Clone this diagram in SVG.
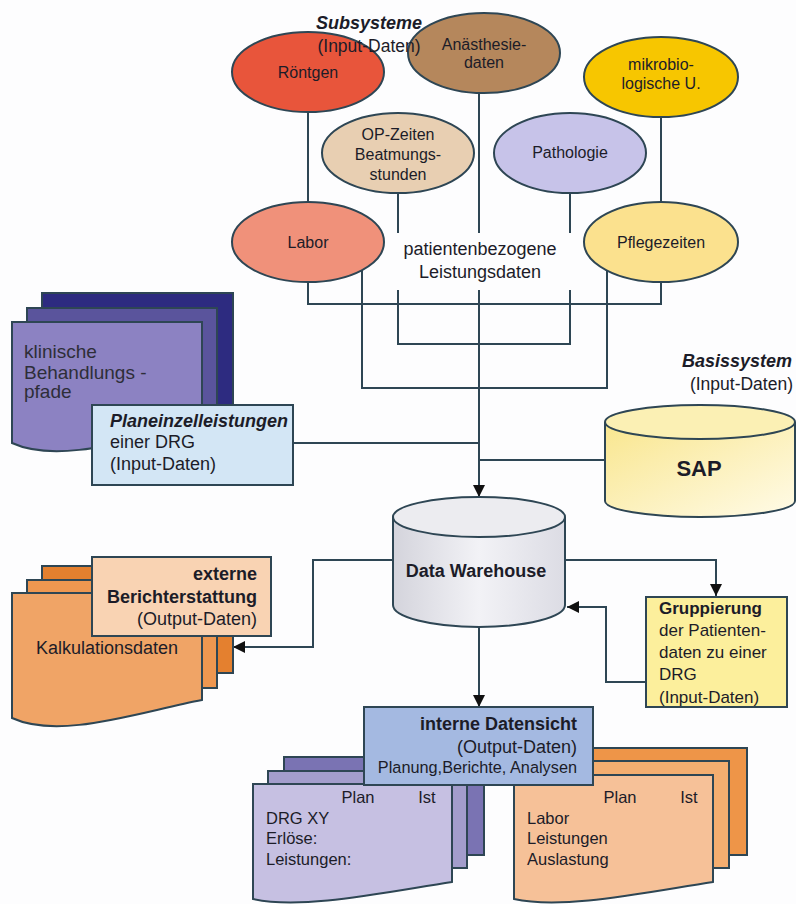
<svg xmlns="http://www.w3.org/2000/svg" width="796" height="904" viewBox="0 0 796 904">
<style>
text{font-family:"Liberation Sans",Arial,sans-serif;fill:#1c1c28}
.e{font-size:16px;text-anchor:middle}
.sh{stroke:#2e4654;stroke-width:2}
.ln{fill:none;stroke:#2e4654;stroke-width:2}
.b{font-weight:bold}
.bi{font-weight:bold;font-style:italic}
</style>
<defs>
<marker id="ah" viewBox="0 0 12 12" refX="12" refY="6" markerWidth="12" markerHeight="12" markerUnits="userSpaceOnUse" orient="auto">
<path d="M0,0 L12,6 L0,12 Z" fill="#111"/>
</marker>
<linearGradient id="gDW" x1="0" y1="0" x2="1" y2="0">
<stop offset="0" stop-color="#d4d4dc"/><stop offset="0.5" stop-color="#f2f2f6"/><stop offset="1" stop-color="#dcdce4"/>
</linearGradient>
<linearGradient id="gSAP" x1="0" y1="0" x2="1" y2="1">
<stop offset="0" stop-color="#f9e68e"/><stop offset="1" stop-color="#fffbe8"/>
</linearGradient>
</defs>
<rect width="796" height="904" fill="#fdfdfe"/>

<g id="connectors">
<path class="ln" d="M308,113 V202"/>
<path class="ln" d="M661,117 V202"/>
<path class="ln" d="M398,193 V233 M398,290 V344 H570 V290 M570,233 V193"/>
<path class="ln" d="M479,93 V233"/>
<path class="ln" d="M308,282 V304 H661 V282"/>
<path class="ln" d="M362,270 V388 H607 V270"/>
<path class="ln" d="M479,290 V497" marker-end="url(#ah)"/>
<path class="ln" d="M293,443 H479"/>
<path class="ln" d="M605,460 H479"/>
<path class="ln" d="M393,560 H313 V647 H233" marker-end="url(#ah)"/>
<path class="ln" d="M565,560 H716 V596" marker-end="url(#ah)"/>
<path class="ln" d="M646,682 H606 V607 H567" marker-end="url(#ah)"/>
<path class="ln" d="M479,627 V707" marker-end="url(#ah)"/>
</g>

<g id="roentgen"><ellipse class="sh" cx="308" cy="72" rx="76" ry="40" fill="#e8553b"/><text class="e" x="308" y="78">Röntgen</text></g>
<g id="anaesthesie"><ellipse class="sh" cx="484" cy="53" rx="76" ry="40" fill="#b5875c"/><text class="e" x="484" y="50">Anästhesie-</text><text class="e" x="484" y="68">daten</text></g>
<g id="mikrobio"><ellipse class="sh" cx="661" cy="77" rx="77" ry="40" fill="#f7c600"/><text class="e" x="661" y="70">mikrobio-</text><text class="e" x="661" y="89">logische U.</text></g>
<g id="opzeiten"><ellipse class="sh" cx="398" cy="153" rx="76" ry="40" fill="#e8cfb2"/><text class="e" x="398" y="140">OP-Zeiten</text><text class="e" x="398" y="160">Beatmungs-</text><text class="e" x="398" y="180">stunden</text></g>
<g id="pathologie"><ellipse class="sh" cx="570" cy="153" rx="76" ry="40" fill="#c7c3e9"/><text class="e" x="570" y="158">Pathologie</text></g>
<g id="labor"><ellipse class="sh" cx="308" cy="242" rx="76" ry="40" fill="#f0917a"/><text class="e" x="308" y="248">Labor</text></g>
<g id="pflegezeiten"><ellipse class="sh" cx="661" cy="242" rx="77" ry="40" fill="#fbe18e"/><text class="e" x="661" y="248">Pflegezeiten</text></g>

<g id="subsysteme-label"><text class="bi" x="369" y="29" font-size="18" text-anchor="middle">Subsysteme</text><text x="369" y="52" font-size="17.5" text-anchor="middle">(Input-Daten)</text></g>
<g id="leistungsdaten-label"><text x="480" y="255" font-size="18" text-anchor="middle">patientenbezogene</text><text x="480" y="278" font-size="18" text-anchor="middle">Leistungsdaten</text></g>

<g id="klinische-pfade">
<rect class="sh" x="42" y="293" width="191" height="115" fill="#2d2b80"/>
<rect class="sh" x="27" y="308" width="190" height="115" fill="#5a549c"/>
<path class="sh" d="M12,322 H202 V425 C139,437 60,465 12,443 Z" fill="#8c82c2"/>
<text x="24" y="358" font-size="19" style="fill:#2e2e38">klinische</text>
<text x="24" y="379" font-size="19" style="fill:#2e2e38">Behandlungs -</text>
<text x="24" y="398" font-size="19" style="fill:#2e2e38">pfade</text>
</g>
<g id="planeinzelleistungen">
<rect class="sh" x="92" y="405" width="201" height="80" fill="#d3e6f5"/>
<text class="bi" x="110" y="427" font-size="18">Planeinzelleistungen</text>
<text x="110" y="448" font-size="18">einer DRG</text>
<text x="110" y="470" font-size="18">(Input-Daten)</text>
</g>

<g id="sap">
<text class="bi" x="792" y="367" font-size="18" text-anchor="end">Basissystem</text>
<text x="793" y="390" font-size="17.5" text-anchor="end">(Input-Daten)</text>
<path class="sh" d="M605,422 V501 A95,16 0 0 0 795,501 V422" fill="url(#gSAP)"/>
<ellipse class="sh" cx="700" cy="422" rx="95" ry="17" fill="#fbf0b4"/>
<text class="b" x="699" y="476" font-size="22" text-anchor="middle">SAP</text>
</g>

<g id="data-warehouse">
<path class="sh" d="M393,517 V605 A86,22 0 0 0 565,605 V517" fill="url(#gDW)"/>
<ellipse class="sh" cx="479" cy="517" rx="86" ry="20" fill="#ececf0"/>
<text class="b" x="476" y="577" font-size="18" text-anchor="middle">Data Warehouse</text>
</g>

<g id="kalkulationsdaten">
<rect class="sh" x="42" y="566" width="191" height="107" fill="#e4802f"/>
<rect class="sh" x="27" y="580" width="190" height="108" fill="#ee9750"/>
<path class="sh" d="M12,593 H202 V700 C139,712 60,740 12,718 Z" fill="#f0a466"/>
<text x="36" y="654" font-size="18">Kalkulationsdaten</text>
</g>
<g id="externe-berichterstattung">
<rect class="sh" x="92" y="557" width="179" height="79" fill="#f9d3b3"/>
<text class="b" x="257" y="580" font-size="18" text-anchor="end">externe</text>
<text class="b" x="257" y="603" font-size="18" text-anchor="end">Berichterstattung</text>
<text x="257" y="625" font-size="18" text-anchor="end">(Output-Daten)</text>
</g>

<g id="gruppierung">
<rect class="sh" x="646" y="597" width="141" height="110" fill="#fcef9c"/>
<text class="b" x="659" y="614" font-size="17">Gruppierung</text>
<text x="659" y="636" font-size="17">der Patienten-</text>
<text x="659" y="658" font-size="17">daten zu einer</text>
<text x="659" y="680" font-size="17">DRG</text>
<text x="659" y="703" font-size="17">(Input-Daten)</text>
</g>

<g id="drg-dokument">
<rect class="sh" x="284" y="757" width="200" height="98" fill="#7a73b3"/>
<rect class="sh" x="268" y="771" width="199" height="97" fill="#a39dcc"/>
<path class="sh" d="M253,784 H452 V882 C386,892 303,910 253,899 Z" fill="#c6c0e2"/>
<text x="358" y="803" font-size="16.5" text-anchor="middle">Plan</text>
<text x="427" y="803" font-size="16.5" text-anchor="middle">Ist</text>
<text x="266" y="824" font-size="16.5">DRG XY</text>
<text x="266" y="844" font-size="16.5">Erlöse:</text>
<text x="266" y="865" font-size="16.5">Leistungen:</text>
</g>
<g id="labor-dokument">
<rect class="sh" x="545" y="748" width="202" height="107" fill="#ee9548"/>
<rect class="sh" x="529" y="761" width="200" height="107" fill="#f4ae70"/>
<path class="sh" d="M514,775 H713 V882 C647,892 564,910 514,899 Z" fill="#f6c198"/>
<text x="620" y="803" font-size="16.5" text-anchor="middle">Plan</text>
<text x="689" y="803" font-size="16.5" text-anchor="middle">Ist</text>
<text x="527" y="824" font-size="16.5">Labor</text>
<text x="527" y="844" font-size="16.5">Leistungen</text>
<text x="527" y="865" font-size="16.5">Auslastung</text>
</g>
<g id="interne-datensicht">
<rect class="sh" x="364" y="707" width="229" height="78" fill="#a4b9e1"/>
<text class="b" x="577" y="730" font-size="18" text-anchor="end">interne Datensicht</text>
<text x="577" y="753" font-size="18" text-anchor="end">(Output-Daten)</text>
<text x="577" y="773" font-size="16.3" text-anchor="end">Planung,Berichte, Analysen</text>
</g>
</svg>
